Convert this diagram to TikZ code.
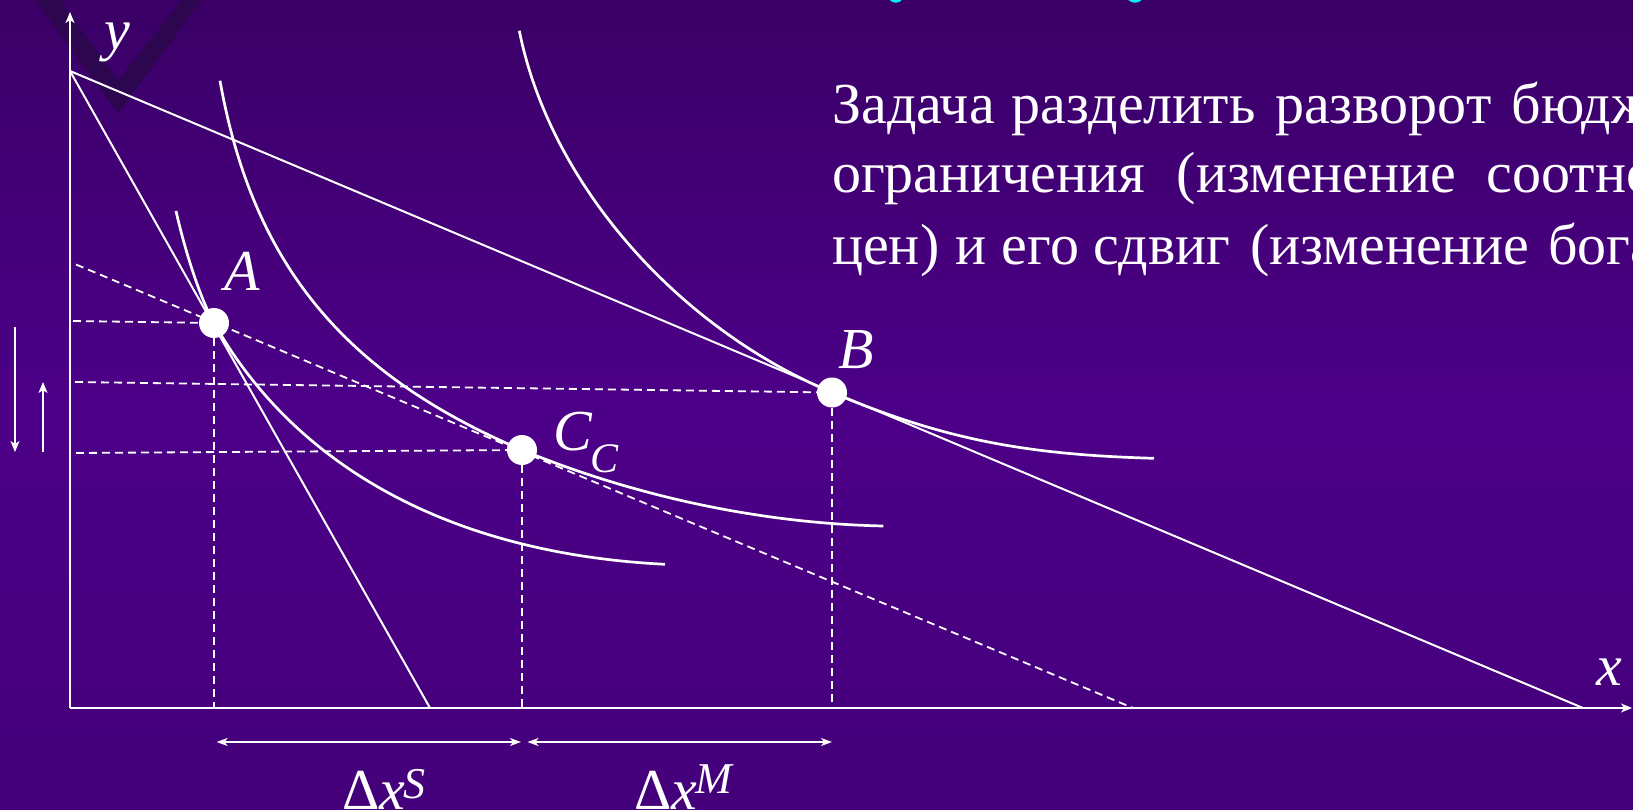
\documentclass[tikz,border=0pt]{standalone}
\usepackage{fontspec}
\setmainfont{Liberation Serif}
\usetikzlibrary{arrows.meta}
\definecolor{bgtop}{RGB}{58,0,102}
\definecolor{bgmid}{RGB}{76,0,136}
\definecolor{bgbot}{RGB}{68,0,122}
\definecolor{vshade}{RGB}{44,6,78}
\definecolor{titlecyan}{RGB}{0,240,255}
\begin{document}
\begin{tikzpicture}[x=1pt,y=-1pt,
  ax/.style={white,line width=2pt},
  bline/.style={white,line width=2pt},
  icurve/.style={white,line width=2.7pt},
  guide/.style={white,line width=1.8pt,dash pattern=on 8pt off 5pt},
  dot/.style={circle,fill=white,minimum size=30pt,inner sep=0pt},
  lbl/.style={white,inner sep=0pt,anchor=base west,font=\fontsize{58}{58}\selectfont\itshape},
  txt/.style={white,inner sep=0pt,anchor=base west,font=\fontsize{58}{70}\selectfont},
  tip/.style={-{Stealth[length=11pt,width=9pt,inset=3pt]}},
  dtip/.style={{Stealth[length=11pt,width=8pt,inset=3pt]}-{Stealth[length=11pt,width=8pt,inset=3pt]}},
]
\useasboundingbox (0,0) rectangle (1633,810);
\clip (0,0) rectangle (1633,810);
\shade[top color=bgtop, bottom color=bgbot, middle color=bgmid] (0,0) rectangle (1633,810);
% decorative V
\fill[vshade] (35,0) -- (118.3,113.3) -- (201.7,0) -- (181.7,0) -- (118.3,80) -- (60,0) -- cycle;
% cut-off title glyphs
\fill[titlecyan] (895.8,-4) ellipse (7.5 and 6.7);
\fill[titlecyan] (1135,-4) ellipse (8.3 and 6.7);

% axes
\coordinate (O) at (70,708);
\coordinate (Ytop) at (70,12);
\coordinate (Xend) at (1632,708);
\draw[ax,tip] (O) -- (Ytop);
\draw[ax,tip] (O) -- (Xend);

% budget lines
\coordinate (Y0) at (70,71);
\coordinate (X1) at (430,708);
\coordinate (X2) at (1583,708);
\draw[bline] (Y0) -- (X1);
\draw[bline] (Y0) -- (X2);
\coordinate (Dc0) at (76,264.5);
\coordinate (Dc1) at (1133,708);
\draw[guide] (Dc0) -- (Dc1);

% points
\coordinate (pA) at (214,323);
\coordinate (pB) at (832,392.5);
\coordinate (pC) at (522,450);

% indifference curves
\draw[icurve] (176,211) .. controls (186.2,255.9) and (201.4,300.7) .. (pA)
  .. controls (296.7,469.3) and (454.5,553.8) .. (665,564.3);
\draw[icurve] (220,80.7) .. controls (252.6,263.4) and (343.2,373.9) .. (pC)
  .. controls (635.2,496.5) and (761.6,523.5) .. (883.3,526);
\draw[icurve] (519.3,30.7) .. controls (549.4,181.4) and (674.5,326.3) .. (pB)
  .. controls (939.7,437.7) and (1020.2,454.6) .. (1154,458.3);

\node[dot] (A) at (pA) {};
\node[dot] (B) at (pB) {};
\node[dot] (C) at (pC) {};

% guide lines
\coordinate (hA) at (73,321);
\coordinate (hB) at (75,382);
\coordinate (hC) at (76,453);
\draw[guide] (hA) -- (A);
\draw[guide] (hB) -- (B);
\draw[guide] (hC) -- (C);
\draw[guide] (A) -- (A |- O);
\draw[guide] (C) -- (C |- O);
\draw[guide] (B) -- (B |- O);

% bottom double arrows
\coordinate (s0) at (216.6,742);
\coordinate (s1) at (521,742);
\coordinate (m0) at (527.5,742);
\coordinate (m1) at (832,742);
\draw[white,line width=1.6pt,dtip] (s0) -- (s1);
\draw[white,line width=1.6pt,dtip] (m0) -- (m1);

% left arrows
\coordinate (d0) at (15,327);
\coordinate (d1) at (15,452);
\coordinate (u0) at (43,452);
\coordinate (u1) at (43,382);
\draw[white,line width=1.6pt,tip] (d0) -- (d1);
\draw[white,line width=1.6pt,tip] (u0) -- (u1);

% labels
\node[lbl] (lA) at (224,290.7) {A};
\node[lbl] (lB) at (838,368) {B};
\node[lbl] (lC) at (553,450) {C\kern-1pt\raisebox{-22pt}{\fontsize{42}{42}\selectfont C}};
\node[lbl] (ly) at (104,50) {y};
\node[lbl] (lx) at (1596,685) {x};
\node[txt] (dS) at (342,809) {Δ\textit{x}\kern-2pt\raisebox{11pt}{\fontsize{44}{44}\selectfont\textit{S}}};
\node[txt] (dM) at (634,809) {Δ\textit{x}\kern-2pt\raisebox{16pt}{\fontsize{44}{44}\selectfont\textit{M}}};

% text block
\node[txt] (w11) at (832,124) {Задача};
\node[txt] (w12) at (1011.7,124) {разделить};
\node[txt] (w13) at (1275,124) {разворот};
\node[txt] (w14) at (1511.7,124) {бюджетного};
\node[txt] (w21) at (832,193) {ограничения};
\node[txt] (w22) at (1176.7,193) {(изменение};
\node[txt] (w23) at (1486.7,193) {соотношения};
\node[txt] (w31) at (832,265) {цен)};
\node[txt] (w32) at (955,265) {и};
\node[txt] (w33) at (1001.7,265) {его};
\node[txt] (w34) at (1093,265) {сдвиг};
\node[txt] (w35) at (1250,265) {(изменение};
\node[txt] (w36) at (1548,265) {богатства)};
\end{tikzpicture}
\end{document}
